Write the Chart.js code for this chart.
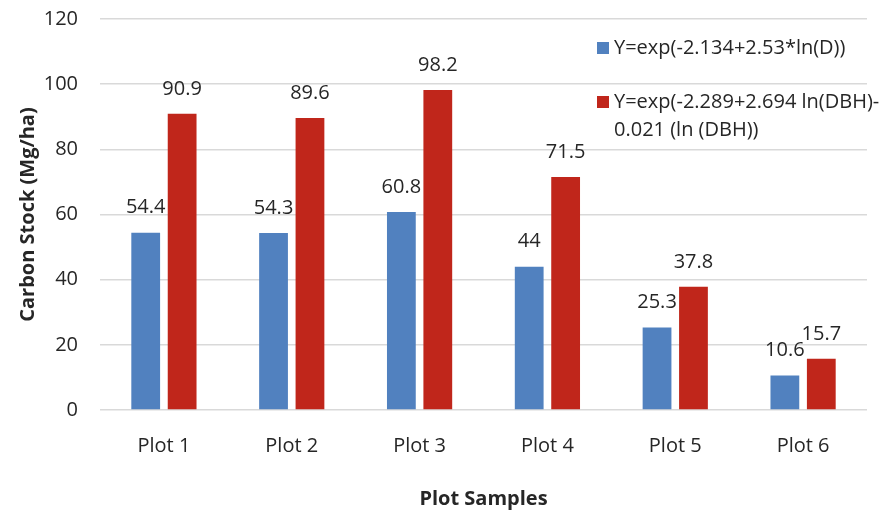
<!DOCTYPE html>
<html lang="en">
<head>
<meta charset="UTF-8">
<title>Carbon Stock</title>
<script src="https://cdn.jsdelivr.net/npm/chart.js@4.4.0/dist/chart.umd.min.js"></script>
<style>
    html,body{margin:0; padding:0; background:#fff;}
    #wrap{width:889px; height:511px;}
</style>
</head>
<body>
<div id="wrap"><canvas id="myChart" width="889" height="511"></canvas></div>
<script>
    // data
    const categories = ['Plot 1', 'Plot 2', 'Plot 3', 'Plot 4', 'Plot 5', 'Plot 6']
    const seriesD = [54.4, 54.3, 60.8, 44, 25.3, 10.6]
    const seriesDBH = [90.9, 89.6, 98.2, 71.5, 37.8, 15.7]
    const legendD = ['Y=exp(-2.134+2.53*ln(D))']
    const legendDBH = ['Y=exp(-2.289+2.694 ln(DBH)-', '0.021 (ln (DBH))']
    const yMin = 0, yMax = 120, yStep = 20

    const FONT = "'Open Sans', 'Liberation Sans', sans-serif"

    // value labels above each bar
    const valueLabels = {
        id: 'valueLabels',
        afterDatasetsDraw(chart){
            const ctx = chart.ctx
            ctx.save()
            ctx.font = '20px ' + FONT
            ctx.fillStyle = '#262626'
            ctx.textAlign = 'center'
            ctx.textBaseline = 'middle'
            chart.data.datasets.forEach(function(ds, i){
                chart.getDatasetMeta(i).data.forEach(function(bar, j){
                    ctx.fillText(String(ds.data[j]), bar.x, bar.y - 25)
                })
            })
            ctx.restore()
        }
    }

    // legend drawn inside the plot, top right
    const boxLegend = {
        id: 'boxLegend',
        afterDraw(chart){
            const ctx = chart.ctx
            const items = [
                {lines: legendD, color: chart.data.datasets[0].backgroundColor, y: 48},
                {lines: legendDBH, color: chart.data.datasets[1].backgroundColor, y: 102}
            ]
            ctx.save()
            ctx.font = '20px ' + FONT
            ctx.textBaseline = 'middle'
            ctx.textAlign = 'left'
            items.forEach(function(it){
                ctx.fillStyle = it.color
                ctx.fillRect(597, it.y - 6, 12, 12)
                ctx.fillStyle = '#262626'
                it.lines.forEach(function(t, k){
                    ctx.fillText(t, 614, it.y + k * 28)
                })
            })
            ctx.restore()
        }
    }

    const ctx = document.getElementById('myChart').getContext('2d')
    const myChart = new Chart(ctx, {
        type: 'bar',
        data: {
            labels: categories,
            datasets: [{
                label: legendD.join(' '),
                data: seriesD,
                backgroundColor: '#5181bf',
                barPercentage: 0.79,
                categoryPercentage: 0.57
            },{
                label: legendDBH.join(' '),
                data: seriesDBH,
                backgroundColor: '#c0261b',
                barPercentage: 0.79,
                categoryPercentage: 0.57
            }]
        },
        options: {
            responsive: false,
            animation: false,
            layout: {padding: {top: 19, right: 22, left: 0, bottom: 0}},
            plugins: {
                legend: {display: false},
                tooltip: {enabled: false}
            },
            scales: {
                x: {
                    grid: {display: false},
                    border: {display: false},
                    ticks: {color: '#262626', font: {family: FONT, size: 20}, padding: 16},
                    title: {
                        display: true,
                        text: 'Plot Samples',
                        color: '#262626',
                        font: {family: FONT, size: 20, weight: 'bold'},
                        padding: {top: 0, bottom: 0}
                    },
                    afterFit(scale){ scale.height = 101 }
                },
                y: {
                    min: yMin,
                    max: yMax,
                    grid: {color: '#d9d9d9', lineWidth: 1.5, drawTicks: false},
                    border: {display: false},
                    ticks: {
                        stepSize: yStep,
                        color: '#262626',
                        font: {family: FONT, size: 20},
                        padding: 22
                    },
                    title: {
                        display: true,
                        text: 'Carbon Stock (Mg/ha)',
                        color: '#262626',
                        font: {family: FONT, size: 20, weight: 'bold'},
                        padding: {top: 16, bottom: 0}
                    },
                    afterFit(scale){
                        scale.width = 100
                        scale.paddingTop = 0
                        scale.paddingBottom = 0
                    }
                }
            }
        },
        plugins: [valueLabels, boxLegend]
    })
</script>
</body>
</html>
